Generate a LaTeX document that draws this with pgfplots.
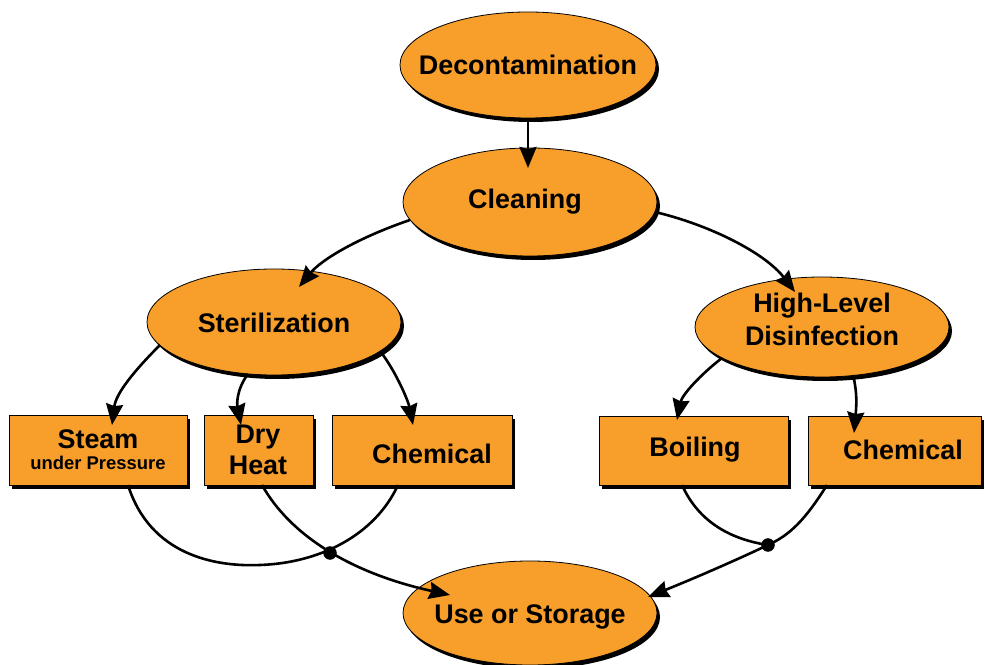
\documentclass[border=0pt]{standalone}
\usepackage{pgfplots}
\pgfplotsset{compat=1.18}
\usepackage{fontspec}
\setmainfont{Liberation Sans}
\usetikzlibrary{arrows.meta}
\definecolor{myorange}{RGB}{247,158,43}
\newcommand\myoval[4]{%
  \fill[black,xshift=3bp,yshift=-4bp] (#1,#2) ellipse [x radius=#3, y radius=#4];
  \filldraw[fill=myorange,draw=black,line width=0.8bp] (#1,#2) ellipse [x radius=#3, y radius=#4];}
\newcommand\mybox[4]{%
  \fill[black,xshift=3bp,yshift=-4bp] (#1,#2) rectangle (#3,#4);
  \filldraw[fill=myorange,draw=black,line width=0.8bp] (#1,#2) rectangle (#3,#4);}
\begin{document}
\begin{tikzpicture}
\begin{axis}[name=main,
  scale only axis, width=985bp, height=665bp,
  xmin=0, xmax=985, ymin=0, ymax=665,
  hide axis, clip=true]
% shapes
\myoval{528}{600}{128}{53}
\myoval{530}{463}{127}{54}
\myoval{274}{343}{127}{53}
\myoval{822}{338}{127}{50}
\myoval{530}{52}{127}{52}
\mybox{9}{180}{187}{250}
\mybox{204}{180}{313}{250}
\mybox{332}{180}{512}{250}
\mybox{599}{180}{788}{249}
\mybox{808}{180}{981}{249}
% texts
\begin{scope}[every node/.style={font=\fontsize{27}{29}\selectfont\bfseries, inner sep=0pt}]
\node at (528,600) {Decontamination};
\node at (525,463) {Cleaning};
\node at (274,342) {Sterilization};
\node at (822,359) {High-Level};
\node at (822,329) {Disinfection};
\node at (530,48) {Use or Storage};
\node at (98,226) {Steam};
\node[font=\fontsize{18.5}{20}\selectfont\bfseries] at (98,202) {under Pressure};
\node at (258,228) {Dry};
\node at (258,200) {Heat};
\node at (432,211) {Chemical};
\node at (695,215) {Boiling};
\node at (903,215) {Chemical};
\end{scope}
% connectors
\begin{scope}[line width=2.6bp, -{Stealth[length=21bp,width=17bp,inset=2bp]}]
\draw (528,547) -- (528,497);
\draw (410,445) .. controls (360,428) and (322,406) .. (299,378);
\draw (655,453) .. controls (710,440) and (765,412) .. (795,373);
\draw (160,320) .. controls (135,295) and (116,272) .. (112,240);
\draw (248,291) .. controls (236,275) and (237,260) .. (241,240);
\draw (380,314) .. controls (395,295) and (408,265) .. (413,240);
\draw (722,307) .. controls (700,290) and (682,270) .. (677,245);
\draw (853,290) .. controls (858,270) and (856,255) .. (854,232);
\draw (262,180) .. controls (290,130) and (350,92) .. (450,70);
\draw (827,180) .. controls (805,145) and (790,130) .. (768,120) .. controls (730,102) and (690,85) .. (648,68);
\end{scope}
\begin{scope}[line width=2.6bp]
\draw (128,180) .. controls (150,110) and (215,98) .. (260,100) .. controls (320,102) and (375,130) .. (398,180);
\draw (682,180) .. controls (700,140) and (735,125) .. (768,120);
\end{scope}
\addplot[only marks, mark=*, mark size=6.5pt, color=black] coordinates {(330,112) (768,120)};
\end{axis}
\pgfresetboundingbox
\path (main.south west) rectangle (main.north east);
\end{tikzpicture}
\end{document}
